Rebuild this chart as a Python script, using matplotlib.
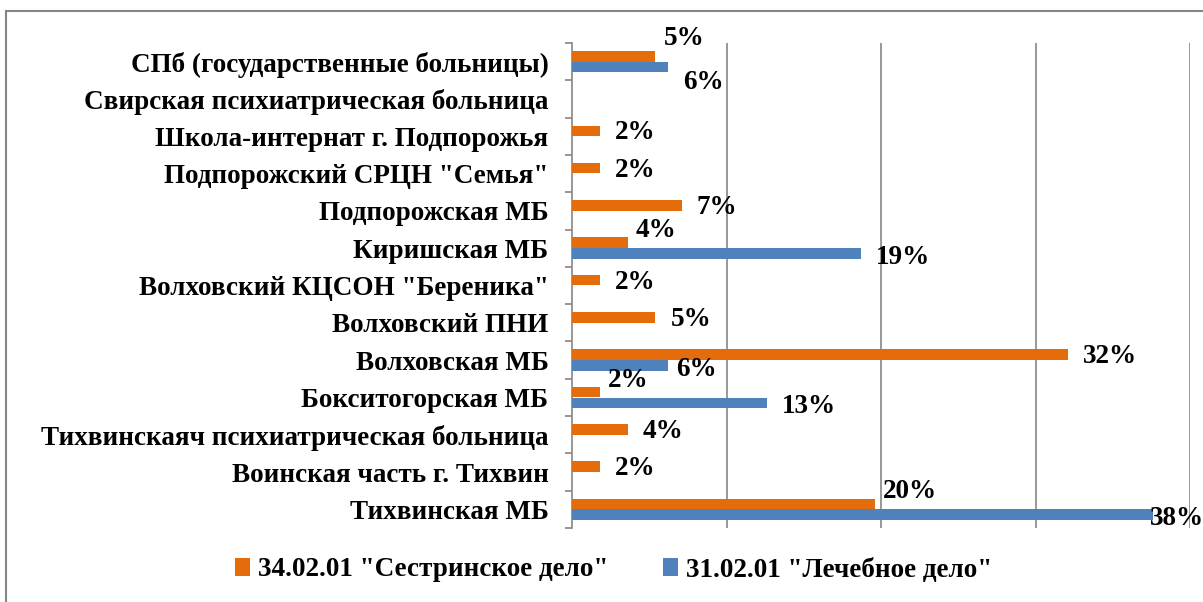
import matplotlib.pyplot as plt
from matplotlib.patches import Rectangle

# categories, bottom to top
categories = [
    'Тихвинская МБ',
    'Воинская часть г. Тихвин',
    'Тихвинскаяч психиатрическая больница',
    'Бокситогорская МБ',
    'Волховская МБ',
    'Волховский ПНИ',
    'Волховский КЦСОН "Береника"',
    'Киришская МБ',
    'Подпорожская МБ',
    'Подпорожский СРЦН "Семья"',
    'Школа-интернат г. Подпорожья',
    'Свирская психиатрическая больница',
    'СПб (государственные больницы)',
]
nursing = [19.6, 1.8, 3.6, 1.8, 32.1, 5.4, 1.8, 3.6, 7.1, 1.8, 1.8, 0, 5.4]
medicine = [37.6, 0, 0, 12.6, 6.2, 0, 0, 18.7, 0, 0, 0, 0, 6.2]
series_names = ['34.02.01 "Сестринское дело"', '31.02.01 "Лечебное дело"']

orange = '#E46C0A'
blue = '#4F81BD'
grey = '#868686'
fs = 19.5

plt.rcParams['font.family'] = ['Liberation Serif', 'DejaVu Serif']
plt.rcParams['font.weight'] = 'bold'

fig = plt.figure(figsize=(12.03, 6.02), dpi=100)
ax = fig.add_axes([572 / 1203, 1 - 528 / 602, (1190 - 572) / 1203, (528 - 43) / 602])

y = list(range(len(categories)))
h = 0.285
off = 0.145
ax.barh([i + off for i in y], nursing, height=h, color=orange, label=series_names[0], zorder=3)
ax.barh([i - off for i in y], medicine, height=h, color=blue, label=series_names[1], zorder=3)

ax.set_xlim(0, 40)
ax.set_ylim(-0.5, len(categories) - 0.5)
ax.set_xticks([10, 20, 30, 40])
ax.tick_params(axis='x', length=0, labelbottom=False)
ax.grid(axis='x', color=grey, linewidth=1.2, zorder=0)
ax.set_axisbelow(True)

for s in ['top', 'right', 'bottom']:
    ax.spines[s].set_visible(False)
ax.spines['left'].set_color(grey)
ax.spines['left'].set_linewidth(1.2)

ax.set_yticks(y)
ax.set_yticklabels(categories, fontsize=fs, fontweight='bold')
ax.set_yticks([i - 0.5 for i in range(len(categories) + 1)], minor=True)
ax.tick_params(axis='y', which='major', length=0, pad=17)
ax.tick_params(axis='y', which='minor', length=5, width=1.2, color=grey)

# data labels, nudged apart when both bars end close together
for i in y:
    a, b = nursing[i], medicine[i]
    close = a > 0 and b > 0 and abs(a - b) < 3
    if a > 0:
        if b > a:
            gap, dy = 8, (18 if close else 12)
        else:
            gap, dy = 15, -2
        ax.annotate(f'{a:.0f}%', (a, i + off), xytext=(gap, dy), textcoords='offset pixels',
                    ha='left', va='center', fontsize=fs, fontweight='bold', annotation_clip=False)
    if b > 0:
        gap = -3 if b > 36 else (8 if b < a else 15)
        dy = -15 if close else -4
        ax.annotate(f'{b:.0f}%', (b, i - off), xytext=(gap, dy), textcoords='offset pixels',
                    ha='left', va='center', fontsize=fs, fontweight='bold', annotation_clip=False)

fig.legend(loc='center', bbox_to_anchor=(0.51, 1 - 570 / 602), ncol=2, frameon=False,
           prop={'size': fs, 'weight': 'bold'}, handlelength=0.55, handleheight=0.65,
           handletextpad=0.3, columnspacing=2.0)

# outer chart border
fig.add_artist(Rectangle((6 / 1203, -0.1), 1.2, 1.1 - 11 / 602, transform=fig.transFigure,
                         fill=False, edgecolor=grey, linewidth=1.5))

plt.savefig('out.png', dpi=100)
